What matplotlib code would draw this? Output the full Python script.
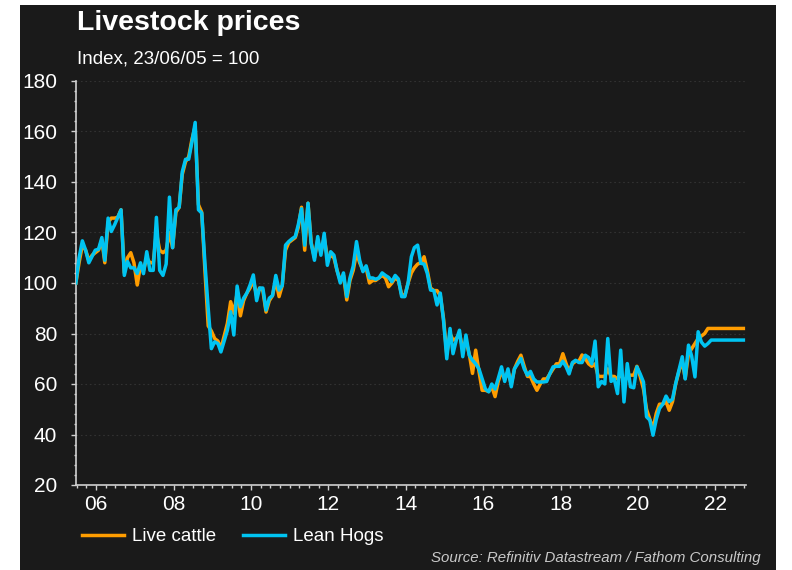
import matplotlib
matplotlib.use('Agg')
import matplotlib.pyplot as plt
import matplotlib.dates as mdates
from matplotlib.patches import Rectangle
from matplotlib.ticker import MultipleLocator
import pandas as pd

plt.rcParams['font.family'] = ['Liberation Sans', 'DejaVu Sans']

# Monthly index values, 23/06/05 = 100
lean_hogs = [
    100, 110, 116.7, 113, 108, 110.5, 113,                                   # 2005 Jun-Dec
    113.4, 118, 109, 125.7, 120.4, 123, 126, 129, 103, 108.5, 106, 106,       # 2006
    103.8, 108, 103.7, 112.4, 105, 105, 126, 105, 103, 107.5, 134, 114,       # 2007
    129, 130, 144, 149, 149, 156, 163.6, 129, 127.7, 108, 90, 74,             # 2008
    76.7, 76, 72.7, 77, 81.3, 88.6, 79.4, 98.8, 90.6, 94, 96, 99.2,           # 2009
    103.2, 93, 98, 98, 89.3, 94, 95, 103, 97.2, 99, 115, 116.4,               # 2010
    117.5, 118.4, 123, 129.4, 115, 131.6, 115.7, 109, 118.4, 111, 119.7, 107, # 2011
    112.4, 111, 105, 100, 104, 94.6, 102, 106.7, 116.4, 109, 104.5, 106.8,    # 2012
    102, 102, 101.5, 102, 104, 103, 102.2, 100.5, 103, 101.6, 94.6, 94.6,     # 2013
    100, 110.4, 114, 115, 107.8, 107.5, 103.8, 97.2, 97, 91.3, 96, 85.3,      # 2014
    70, 82, 72, 77.4, 81.3, 70.8, 79.4, 71.4, 69.4, 68, 66, 62,               # 2015
    58, 56.9, 60, 58, 62.2, 66.8, 61, 66, 58.9, 66, 68, 70.1,                 # 2016
    66, 63.5, 65, 62, 60.8, 60.8, 60.8, 61, 64.2, 66.8, 67, 67,               # 2017
    69, 66.8, 64, 68.5, 69.4, 68.5, 68.5, 71.4, 70.5, 68, 77, 58.9,           # 2018
    61, 60, 78, 61, 62, 56.2, 73.4, 52.9, 68.1, 58.9, 58.5, 66.8,             # 2019
    64, 60.8, 47, 45.7, 39.7, 46, 50.3, 52, 55.2, 53, 54, 60.2,               # 2020
    65.5, 70.8, 62, 75.4, 71, 62.8, 80.7, 76.6, 75, 76, 77.4, 77.4,           # 2021
    77.4, 77.4, 77.4, 77.4, 77.4, 77.4, 77.4, 77.4, 77.4,                     # 2022 Jan-Sep
]

live_cattle = [
    100, 108, 115, 113, 109, 111, 112,                                        # 2005 Jun-Dec
    113, 117, 108, 124, 125.7, 125.7, 126, 129, 104, 110, 112, 108,           # 2006
    99.2, 107, 105, 110, 108, 108, 120, 113, 112, 113, 120, 114,              # 2007
    128, 130, 143, 148, 150, 157, 162, 131, 128, 105, 83, 81,                 # 2008
    78, 77, 74, 79, 84, 92.6, 88, 96, 87, 93, 96, 98,                         # 2009
    101, 95, 98, 97, 88.5, 93, 95, 101, 94.6, 99, 113, 116,                   # 2010
    117, 118, 122, 130, 113, 131.6, 116, 110, 117, 112, 118, 110,             # 2011
    111, 110, 105, 101, 103, 93.3, 101, 105, 112, 108, 105, 106,              # 2012
    100, 101, 101, 102, 103, 102, 98.5, 100, 102, 101, 95.5, 95,              # 2013
    100, 104, 106, 107.5, 108, 110.4, 105, 98, 97, 97, 95, 86,                # 2014
    72, 80, 77.4, 78, 80, 74, 77, 72, 64.2, 73.4, 65, 57.5,                   # 2015
    57.5, 57, 59, 55, 61, 65, 62, 65, 60, 66, 69, 71.4,                       # 2016
    67, 63, 63, 60, 57.5, 60, 62, 62, 64, 66, 68, 68,                         # 2017
    72, 68, 65, 68, 69, 69, 71.5, 70, 68, 67, 68, 63,                         # 2018
    63, 63, 66, 63, 63, 62, 64, 61, 63, 63.5, 63.5, 67,                       # 2019
    63, 58, 50, 46, 42.4, 48.4, 52, 52, 53, 49.6, 53, 60,                     # 2020
    65, 69, 62.2, 72, 74, 76, 78, 79, 80, 82, 82, 82,                         # 2021
    82, 82, 82, 82, 82, 82, 82, 82, 82,                                       # 2022 Jan-Sep
]

dates = pd.date_range('2005-06-23', periods=len(lean_hogs), freq=pd.DateOffset(months=1))

bg = '#1a1a1a'
orange = '#ff9d00'
cyan = '#00c4f2'
axis_col = '#d0d0d0'

fig = plt.figure(figsize=(7.92, 5.70), dpi=100, facecolor='white')
fig.patches.append(Rectangle((20 / 792, 0), 756 / 792, 565 / 570,
                             transform=fig.transFigure, facecolor=bg,
                             edgecolor='none', zorder=-10))

ax = fig.add_axes([76 / 792, 1 - 485 / 570, 669.7 / 792, 404 / 570])
ax.set_facecolor(bg)

ax.plot(dates, live_cattle, color=orange, lw=2.5, label='Live cattle', zorder=3)
ax.plot(dates, lean_hogs, color=cyan, lw=2.5, label='Lean Hogs', zorder=4)

ax.set_ylim(20, 180)
ax.set_xlim(pd.Timestamp('2005-06-24'), pd.Timestamp('2022-10-15'))

ax.yaxis.set_major_locator(MultipleLocator(20))
ax.yaxis.set_minor_locator(MultipleLocator(4))
ax.xaxis.set_major_locator(mdates.YearLocator(2))
ax.xaxis.set_minor_locator(mdates.MonthLocator(bymonth=[1, 4, 7, 10]))
ax.xaxis.set_major_formatter(mdates.DateFormatter('%y'))

ax.grid(axis='y', which='major', color='#323232', ls=(0, (1.5, 2.5)), lw=0.8)
ax.set_axisbelow(True)

for s in ['top', 'right']:
    ax.spines[s].set_visible(False)
for s in ['left', 'bottom']:
    ax.spines[s].set_color(axis_col)
    ax.spines[s].set_linewidth(1.2)

ax.tick_params(which='major', length=3.5, width=1, color=axis_col,
               labelcolor='white', labelsize=15)
ax.tick_params(which='minor', length=1.8, width=1, color=axis_col)
ax.tick_params(axis='y', which='major', pad=10)
ax.tick_params(axis='x', which='major', pad=4)

fig.text(77 / 792, 1 - 30.5 / 570, 'Livestock prices', color='white',
         fontsize=20.5, fontweight='bold', ha='left', va='baseline')
fig.text(77 / 792, 1 - 64 / 570, 'Index, 23/06/05 = 100', color='white',
         fontsize=13.5, ha='left', va='baseline')

leg = fig.legend(loc='center left', bbox_to_anchor=(82 / 792, 1 - 536.5 / 570),
                 ncol=2, frameon=False, fontsize=13.5, handlelength=2.25,
                 handletextpad=0.4, columnspacing=1.45, borderpad=0,
                 borderaxespad=0)
for t in leg.get_texts():
    t.set_color('white')

fig.text(761 / 792, 1 - 558 / 570,
         'Source: Refinitiv Datastream / Fathom Consulting', color='#c8c8c8',
         fontsize=10.8, style='italic', ha='right', va='center')

fig.savefig('out.png', dpi=100, facecolor=fig.get_facecolor())
